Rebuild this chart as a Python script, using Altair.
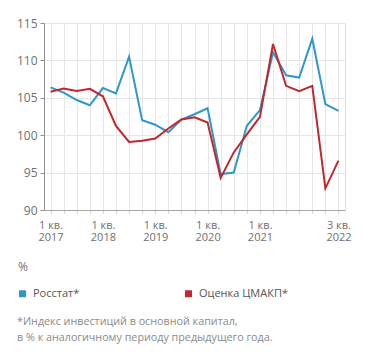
import altair as alt
import pandas as pd

# ---- data ----
quarters = [f"{y}Q{q}" for y in range(2017, 2023) for q in range(1, 5)][:23]
rosstat = [106.4, 105.7, 104.7, 104.0, 106.3, 105.6, 110.5, 102.0, 101.4, 100.4,
           102.1, 102.8, 103.6, 94.8, 95.0, 101.25, 103.35, 111.1, 108.0, 107.7,
           112.9, 104.15, 103.25]
cmakp = [105.8, 106.25, 105.9, 106.2, 105.2, 101.25, 99.1, 99.25, 99.55, 100.9,
         102.1, 102.4, 101.7, 94.3, 97.7, 100.1, 102.45, 112.2, 106.6, 105.9,
         106.6, 92.9, 96.6]
series_names = ["Росстат*", "Оценка ЦМАКП*"]
series_colors = ["#2e97cc", "#c1272d"]
tick_labels = {
    "2017Q1": ["1 кв.", "2017"],
    "2018Q1": ["1 кв.", "2018"],
    "2019Q1": ["1 кв.", "2019"],
    "2020Q1": ["1 кв.", "2020"],
    "2021Q1": ["1 кв.", "2021"],
    "2022Q3": ["3 кв.", "2022"],
}
y_ticks = [90, 95, 100, 105, 110, 115]
unit_label = "%"
footnote = ["*Индекс инвестиций в основной капитал,",
            "в % к аналогичному периоду предыдущего года."]

df = pd.DataFrame({
    "q": quarters * 2,
    "v": rosstat + cmakp,
    "s": [series_names[0]] * len(quarters) + [series_names[1]] * len(quarters),
})

expr = "''"
for k, (a, b) in reversed(list(tick_labels.items())):
    expr = f"datum.value == '{k}' ? ['{a}', '{b}'] : ({expr})"

FONT = "Open Sans"
GRAY = "#6f6f6f"

x_enc = alt.X("q:O", sort=quarters,
              scale=alt.Scale(paddingInner=0, paddingOuter=0),
              axis=alt.Axis(title=None, bandPosition=0,
                            labelExpr=expr, labelAngle=0, labelOverlap=False,
                            labelFont=FONT, labelFontSize=11, labelColor=GRAY,
                            labelLineHeight=12.5, labelPadding=6, labelBaseline="top",
                            grid=True, gridColor="#e6e6e6",
                            domainColor="#a8a8a8", tickColor="#cfcfcf", tickSize=3))
y_enc = alt.Y("v:Q", scale=alt.Scale(domain=[90, 115], nice=False, zero=False),
              axis=alt.Axis(title=None, values=y_ticks, grid=True, gridColor="#e6e6e6",
                            labelFont=FONT, labelFontSize=12, labelColor=GRAY,
                            labelPadding=3, domainColor="#8f8f8f", tickColor="#8f8f8f",
                            tickSize=4))
color_scale = alt.Scale(domain=series_names, range=series_colors)

legend_pts = alt.Chart(df).mark_point(shape="square", filled=True, opacity=0).encode(
    x=x_enc, y=y_enc,
    color=alt.Color("s:N", sort=series_names, scale=color_scale,
                    legend=alt.Legend(title=None, orient="none", legendX=-27, legendY=265,
                                      direction="horizontal", columns=2, columnPadding=103,
                                      symbolType="square", symbolSize=49,
                                      symbolStrokeWidth=0, symbolOpacity=1,
                                      labelFont=FONT, labelFontSize=11, labelColor="#555555",
                                      labelOffset=5)),
)

lines = alt.Chart(df).mark_line(strokeWidth=2).encode(
    x=x_enc, y=y_enc,
    color=alt.Color("s:N", sort=series_names, scale=color_scale, legend=None),
)

one = alt.Data(values=[{"a": 1}])

unit = alt.Chart(one).mark_text(
    text=unit_label, font=FONT, fontSize=12, color=GRAY, align="left", baseline="middle"
).encode(x=alt.value(-26), y=alt.value(243.5))

note = alt.Chart(one).mark_text(
    text=footnote, font=FONT, fontSize=10.75, color="#8a8a8a", align="left",
    baseline="middle", lineHeight=16
).encode(x=alt.value(-27), y=alt.value(298.5))

chart = alt.layer(legend_pts, lines, unit, note).properties(
    width=301, height=187,
    autosize=alt.AutoSizeParams(type="none"),
    padding={"left": 36, "top": 15, "right": 18, "bottom": 135},
).configure_view(stroke=None).configure(background="white")

chart.save("out.html", embed_options={"renderer": "svg", "actions": False})
